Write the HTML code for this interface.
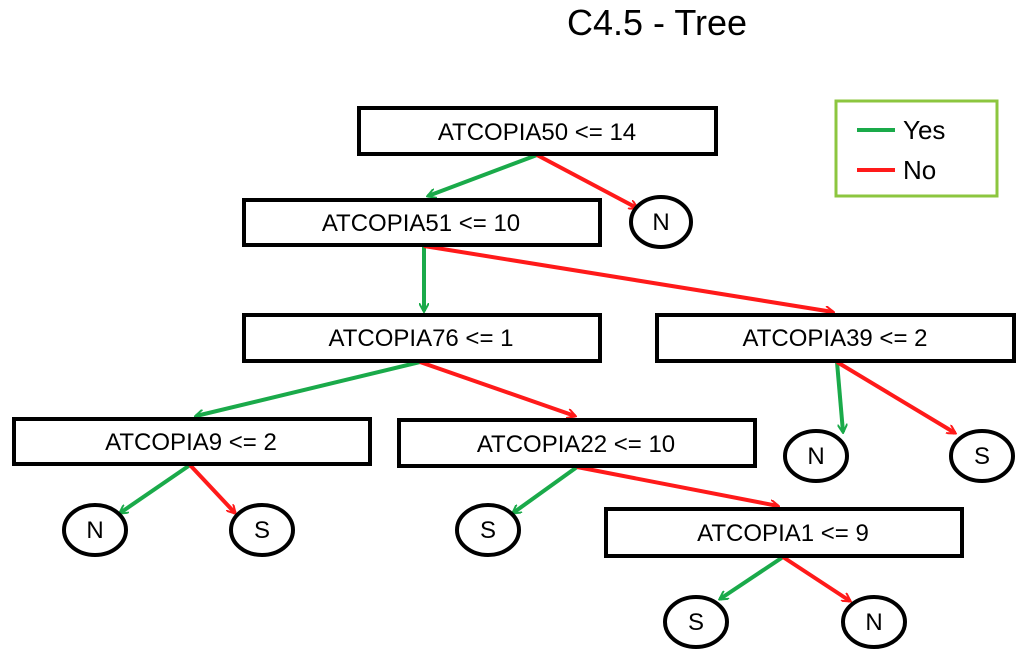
<!DOCTYPE html>
<html><head><meta charset="utf-8"><style>
html,body{margin:0;padding:0;background:#fff;}
svg{display:block;}
text{font-family:"Liberation Sans",Arial,sans-serif;}
</style></head><body>
<svg width="1024" height="654" viewBox="0 0 1024 654" xmlns="http://www.w3.org/2000/svg">
<defs>
<marker id="g" markerWidth="10" markerHeight="10" refX="8" refY="5" orient="auto" markerUnits="userSpaceOnUse" viewBox="0 0 10 10"><path d="M0,0 L9,5 L0,10" fill="none" stroke="#1aaa4a" stroke-width="2"/></marker>
<marker id="r" markerWidth="10" markerHeight="10" refX="8" refY="5" orient="auto" markerUnits="userSpaceOnUse" viewBox="0 0 10 10"><path d="M0,0 L9,5 L0,10" fill="none" stroke="#ff1a1a" stroke-width="2"/></marker>
</defs>
<text x="657" y="35" font-size="36" text-anchor="middle">C4.5 - Tree</text>
<rect x="836" y="101" width="161" height="95" fill="none" stroke="#8cc63f" stroke-width="3"/>
<line x1="857" y1="130" x2="895" y2="130" stroke="#1aaa4a" stroke-width="4"/>
<line x1="857" y1="170" x2="895" y2="170" stroke="#ff1a1a" stroke-width="4"/>
<text x="903" y="139" font-size="26">Yes</text>
<text x="903" y="179" font-size="26">No</text>
<g stroke-width="4" fill="none">
<g stroke="#1aaa4a">
<line x1="537" y1="155" x2="428" y2="196" marker-end="url(#g)"/>
<line x1="424" y1="246" x2="424" y2="311" marker-end="url(#g)"/>
<line x1="420" y1="362" x2="196" y2="416" marker-end="url(#g)"/>
<line x1="837" y1="362" x2="843" y2="432" marker-end="url(#g)"/>
<line x1="190" y1="465" x2="120" y2="513" marker-end="url(#g)"/>
<line x1="577" y1="467" x2="513" y2="513" marker-end="url(#g)"/>
<line x1="783" y1="557" x2="720" y2="599" marker-end="url(#g)"/>
</g>
<g stroke="#ff1a1a">
<line x1="537" y1="155" x2="637" y2="208" marker-end="url(#r)"/>
<line x1="424" y1="246" x2="833" y2="312" marker-end="url(#r)"/>
<line x1="420" y1="362" x2="575" y2="416" marker-end="url(#r)"/>
<line x1="837" y1="362" x2="955" y2="433" marker-end="url(#r)"/>
<line x1="190" y1="465" x2="235" y2="513" marker-end="url(#r)"/>
<line x1="577" y1="467" x2="778" y2="506" marker-end="url(#r)"/>
<line x1="783" y1="557" x2="850" y2="601" marker-end="url(#r)"/>
</g>
</g>
<g fill="#fff" stroke="#000" stroke-width="4">
<rect x="359" y="108" width="357" height="46"/>
<rect x="244" y="200" width="356" height="45"/>
<rect x="244" y="315" width="356" height="46"/>
<rect x="657" y="315" width="357" height="46"/>
<rect x="14" y="419" width="356" height="45"/>
<rect x="399" y="420" width="356" height="46"/>
<rect x="606" y="509" width="356" height="47"/>
<ellipse cx="661" cy="222" rx="30" ry="25"/>
<ellipse cx="816" cy="456" rx="31" ry="25"/>
<ellipse cx="982" cy="456" rx="31" ry="25"/>
<ellipse cx="95" cy="530" rx="31" ry="25"/>
<ellipse cx="262" cy="530" rx="31" ry="25"/>
<ellipse cx="488" cy="530" rx="31" ry="25"/>
<ellipse cx="696" cy="622" rx="31" ry="25"/>
<ellipse cx="874" cy="622" rx="31" ry="25"/>
</g>
<g font-size="24" text-anchor="middle">
<text x="537" y="140">ATCOPIA50 &lt;= 14</text>
<text x="421" y="231">ATCOPIA51 &lt;= 10</text>
<text x="421" y="346">ATCOPIA76 &lt;= 1</text>
<text x="835" y="346">ATCOPIA39 &lt;= 2</text>
<text x="191" y="450">ATCOPIA9 &lt;= 2</text>
<text x="576" y="452">ATCOPIA22 &lt;= 10</text>
<text x="783" y="541">ATCOPIA1 &lt;= 9</text>
<text x="661" y="230">N</text>
<text x="816" y="464">N</text>
<text x="982" y="464">S</text>
<text x="95" y="538">N</text>
<text x="262" y="538">S</text>
<text x="488" y="538">S</text>
<text x="696" y="630">S</text>
<text x="874" y="630">N</text>
</g>
</svg>
</body></html>
